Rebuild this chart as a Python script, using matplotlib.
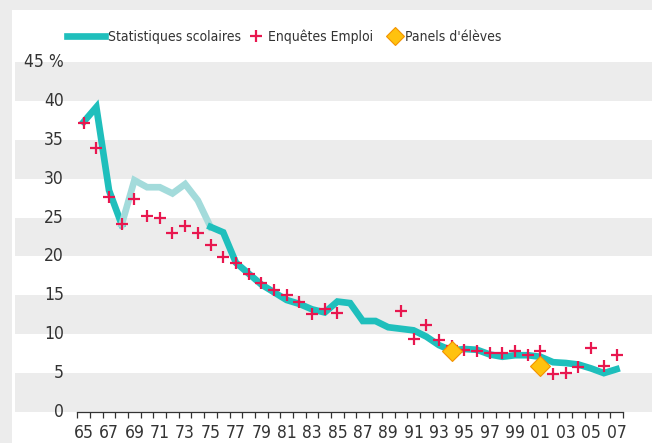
import matplotlib
matplotlib.use('Agg')
from matplotlib import pyplot as plt
from matplotlib.lines import Line2D
from matplotlib.patches import Rectangle
import matplotlib.transforms as mtransforms

plt.rcParams['font.family'] = ['DejaVu Sans']
plt.rcParams['font.stretch'] = 'condensed'

TEAL = '#1fbfbc'
TEAL_LIGHT = '#a3dbdb'
RED = '#e8174f'
YELLOW = '#ffc20e'
ORANGE = '#f39200'
BAND = '#ececec'
TEXT = '#333333'

years = list(range(1965, 2008))

# Statistiques scolaires (one value per year, 1965-2007)
scolaires = [37.3, 39.2, 28.5, 24.1, 29.8, 28.9, 28.9, 28.1, 29.3, 27.2,
             23.8, 23.1, 19.2, 17.8, 16.4, 15.4, 14.4, 13.9, 13.2, 12.8,
             14.2, 14.0, 11.7, 11.7, 10.9, 10.7, 10.5, 9.7, 8.6, 7.9,
             8.1, 8.0, 7.4, 7.1, 7.3, 7.3, 7.1, 6.4, 6.3, 6.1,
             5.6, 5.0, 5.5]
# years drawn in light colour
light_start, light_end = 1968, 1975

# Enquêtes Emploi
emploi_years = list(range(1965, 1986)) + list(range(1990, 2008))
emploi = [37.2, 33.9, 27.7, 24.2, 27.4, 25.2, 24.9, 23.0, 23.9, 23.0,
          21.5, 19.9, 19.1, 17.7, 16.6, 15.7, 15.1, 14.2, 12.6, 13.2,
          12.7,
          13.0, 9.4, 11.2, 9.2, 8.5, 8.0, 7.9, 7.6, 7.6, 7.9,
          7.3, 7.9, 4.9, 5.0, 5.8, 8.2, 5.9, 7.3]

# Panels d'élèves
panel_years = [1994, 2001]
panel = [7.9, 5.9]

y_ticks = [0, 5, 10, 15, 20, 25, 30, 35, 40, 45]
y_labels = ['0', '5', '10', '15', '20', '25', '30', '35', '40', '45 %']

W, H = 652, 443
fig = plt.figure(figsize=(W / 100, H / 100), dpi=100, facecolor=BAND)
fig.patches.append(Rectangle((12 / W, 0), 1 - 12 / W, 1 - 10 / H,
                             transform=fig.transFigure, facecolor='white',
                             edgecolor='none', zorder=-5))

ax = fig.add_axes([15 / W, (H - 412) / H, (W - 15) / W, (412 - 62) / H])
ax.set_facecolor('none')
px = 12.69
ax.set_xlim(1964.5 - (77.3 - 15) / px, 2007.5 + (W - 622.9) / px)
ax.set_ylim(0, 45)

for lo in range(0, 45, 10):
    ax.axhspan(lo, lo + 5, color=BAND, lw=0, zorder=0)

# dark / light pieces of the school statistics line
i0 = years.index(light_start)
i1 = years.index(light_end)
ax.plot(years[:i0 + 1], scolaires[:i0 + 1], color=TEAL, lw=4.8,
        solid_joinstyle='miter', zorder=2)
ax.plot(years[i0:i1 + 1], scolaires[i0:i1 + 1], color=TEAL_LIGHT, lw=4.8,
        solid_joinstyle='miter', zorder=2)
ax.plot(years[i1:], scolaires[i1:], color=TEAL, lw=4.8,
        solid_joinstyle='miter', zorder=2)

ax.plot(emploi_years, emploi, ls='none', marker='+', color=RED,
        markersize=9, markeredgewidth=1.6, zorder=3)
ax.plot(panel_years, panel, ls='none', marker='D', markerfacecolor=YELLOW,
        markeredgecolor=ORANGE, markersize=10, markeredgewidth=0.8, zorder=4)

# axes decoration
for s in ['top', 'right', 'left']:
    ax.spines[s].set_visible(False)
ax.spines['bottom'].set_bounds(1964.5, 2007.5)
ax.spines['bottom'].set_color(TEXT)
ax.spines['bottom'].set_linewidth(0.9)
ax.set_xticks([y + 0.5 for y in range(1964, 2008)], minor=True)
ax.set_xticks(years[::2])
ax.set_xticklabels([f'{y % 100:02d}' for y in years[::2]])
ax.tick_params(axis='x', which='major', length=0, pad=9, labelsize=12.5,
               labelcolor=TEXT)
ax.tick_params(axis='x', which='minor', length=4, width=0.9, color=TEXT,
               direction='out')
ax.set_yticks([])

trans = mtransforms.blended_transform_factory(ax.transAxes, ax.transData)
for v, lab in zip(y_ticks, y_labels):
    ax.text((64 - 15) / (W - 15), v, lab, transform=trans, ha='right',
            va='center', fontsize=12.5, color=TEXT)

# legend: three single-entry legends placed along the top
leg_fs = 10
em = leg_fs * 100 / 72
legend_items = [
    (Line2D([], [], color=TEAL, lw=4.8), 'Statistiques scolaires', 67, 38, 3),
    (Line2D([], [], ls='none', marker='+', color=RED, markersize=9,
            markeredgewidth=1.6), 'Enquêtes Emploi', 248, 16, 4),
    (Line2D([], [], ls='none', marker='D', markerfacecolor=YELLOW,
            markeredgecolor=ORANGE, markersize=9, markeredgewidth=0.8),
     "Panels d'élèves", 387, 16, 2),
]
for handle, label, x0, hlen, gap in legend_items:
    leg = fig.legend([handle], [label], loc='center left',
                     bbox_to_anchor=(x0 / W, 1 - 37 / H), frameon=False,
                     fontsize=leg_fs, handlelength=hlen / em,
                     handletextpad=gap / em, labelcolor=TEXT,
                     borderaxespad=0, borderpad=0)

fig.savefig('out.png', dpi=100, facecolor=BAND)
